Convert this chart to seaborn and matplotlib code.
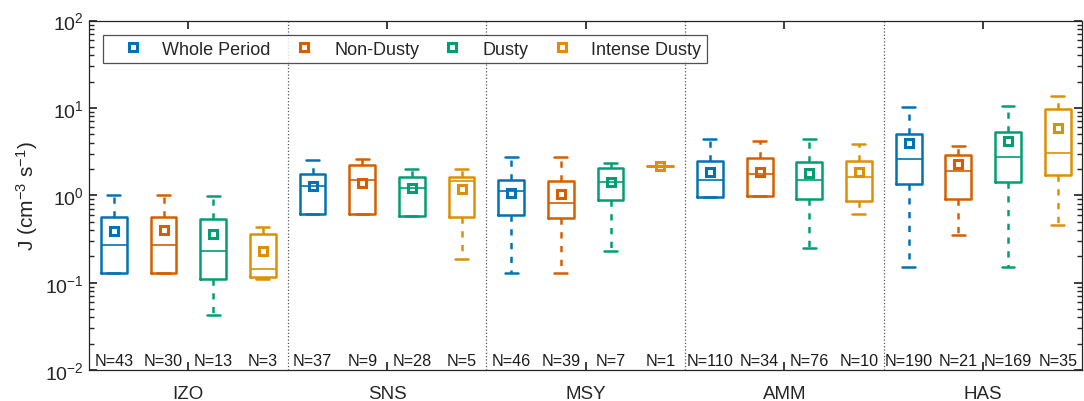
import numpy as np
import pandas as pd
import seaborn as sns
import matplotlib.pyplot as plt
from matplotlib.lines import Line2D

# sites and periods
sites = ["IZO", "SNS", "MSY", "AMM", "HAS"]
periods = ["Whole Period", "Non-Dusty", "Dusty", "Intense Dusty"]

# box statistics, site-major order (4 periods per site)
whishi = [1.02, 1.0, 0.98, 0.43, 2.56, 2.61, 1.98, 1.98, 2.75, 2.75, 2.35, 2.15,
          4.45, 4.15, 4.45, 3.87, 10.3, 3.64, 10.4, 13.6]
q3 = [0.566, 0.566, 0.53, 0.36, 1.74, 2.2, 1.6, 1.62, 1.48, 1.46, 2.06, 2.15,
      2.45, 2.68, 2.41, 2.47, 5.08, 2.87, 5.31, 9.8]
med = [0.268, 0.27, 0.231, 0.142, 1.28, 1.48, 1.22, 1.45, 1.11, 0.824, 1.42, 2.15,
       1.51, 1.74, 1.48, 1.6, 2.63, 1.9, 2.75, 3.08]
q1 = [0.13, 0.13, 0.109, 0.116, 0.618, 0.607, 0.586, 0.566, 0.601, 0.556, 0.877, 2.15,
      0.96, 0.985, 0.917, 0.854, 1.36, 0.917, 1.42, 1.72]
whislo = [0.13, 0.13, 0.043, 0.109, 0.618, 0.607, 0.586, 0.185, 0.13, 0.13, 0.231, 2.15,
          0.96, 0.985, 0.25, 0.618, 0.15, 0.35, 0.15, 0.454]
means = [0.39, 0.405, 0.358, 0.231, 1.28, 1.39, 1.22, 1.17, 1.07, 1.03, 1.42, 2.15,
         1.85, 1.85, 1.82, 1.85, 4.0, 2.3, 4.15, 5.9]
counts = [43, 30, 13, 3, 37, 9, 28, 5, 46, 39, 7, 1,
          110, 34, 76, 10, 190, 21, 169, 35]

df = pd.DataFrame({
    "site": np.repeat(sites, len(periods)),
    "period": periods * len(sites),
    "whislo": whislo, "q1": q1, "med": med, "q3": q3, "whishi": whishi,
    "mean": means, "n": counts,
})

sns.set_theme(style="ticks")
plt.rcParams["font.family"] = ["Liberation Sans", "DejaVu Sans"]
plt.rcParams["mathtext.fontset"] = "custom"
plt.rcParams["mathtext.rm"] = "Liberation Sans"
plt.rcParams["mathtext.it"] = "Liberation Sans:italic"

cb = sns.color_palette("colorblind")
palette = dict(zip(periods, [cb[0], cb[3], cb[2], cb[1]]))

fig = plt.figure(figsize=(10.84, 4.02), dpi=100)
ax = fig.add_axes([0.0821, 0.077, 0.9165, 0.8695])
ax.set_yscale("log")

dodge = 0.75
offsets = np.linspace(-dodge / 2, dodge / 2, len(periods))
width = 0.13

# boxes
for j, p in enumerate(periods):
    sub = df[df["period"] == p]
    stats = [dict(whislo=r.whislo, q1=r.q1, med=r.med, q3=r.q3, whishi=r.whishi, fliers=[])
             for r in sub.itertuples()]
    pos = [sites.index(s) + offsets[j] for s in sub["site"]]
    c = palette[p]
    ax.bxp(stats, positions=pos, widths=width, capwidths=width * 0.5,
           showfliers=False, manage_ticks=False,
           boxprops=dict(color=c, linewidth=1.8),
           medianprops=dict(color=c, linewidth=1.2),
           whiskerprops=dict(color=c, linewidth=1.8, linestyle=(0, (2.5, 3))),
           capprops=dict(color=c, linewidth=1.8))

# means
sns.pointplot(data=df, x="site", y="mean", hue="period", order=sites,
              hue_order=periods, palette=palette, dodge=dodge, errorbar=None,
              markers="s", linestyles="none", markerfacecolor="none",
              markersize=5.5, markeredgewidth=2.2, legend=False, ax=ax)

# N labels
for r in df.itertuples():
    x = sites.index(r.site) + offsets[periods.index(r.period)]
    ax.text(x, 0.026, f"N={r.n}", transform=ax.get_xaxis_transform(),
            ha="center", va="center", fontsize=11.6, color="#1a1a1a")

for k in range(1, len(sites)):
    ax.axvline(k - 0.5, color="#555555", linestyle=":", linewidth=0.9)

ax.set_xlim(-0.5, len(sites) - 0.5)
ax.set_ylim(1e-2, 1e2)
ax.set_xticks(range(len(sites)))
ax.set_xticklabels(sites)
ax.set_xlabel("")
ax.set_ylabel("J (cm$^{-3}$ s$^{-1}$)", fontsize=15, labelpad=4)
ax.tick_params(axis="both", which="both", direction="in", top=True, right=True,
               colors="#262626")
ax.tick_params(axis="y", labelsize=14)
ax.tick_params(axis="x", length=6, pad=10.5, labelsize=13.5)
ax.tick_params(axis="y", which="major", length=6)
ax.tick_params(axis="y", which="minor", length=3.5)
for sp in ax.spines.values():
    sp.set_color("#262626")
    sp.set_linewidth(0.9)

handles = [Line2D([], [], color=palette[p], marker="s", linestyle="none",
                  markerfacecolor="none", markersize=5.5, markeredgewidth=2.2)
           for p in periods]
leg = ax.legend(handles, periods, loc="upper left", bbox_to_anchor=(0.014, 0.958),
                ncol=4, fontsize=13, frameon=True, fancybox=False,
                edgecolor="#262626", borderpad=0.3, handletextpad=0.3,
                columnspacing=0.5, handlelength=2.7, borderaxespad=0)
leg.get_frame().set_linewidth(0.9)

fig.savefig("out.png", dpi=100)
